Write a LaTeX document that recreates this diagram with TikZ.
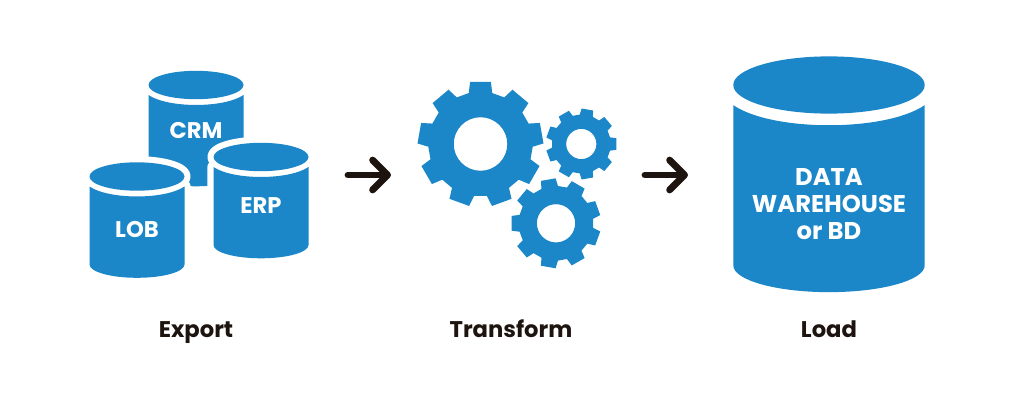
\documentclass[tikz,border=0pt]{standalone}
\usepackage{fontspec}
\setmainfont{Poppins}
\usetikzlibrary{arrows.meta}
\definecolor{iconblue}{HTML}{1B87C9}
\definecolor{arrowblack}{HTML}{1D1410}
\tikzset{
  icon/.style={fill=iconblue,draw=none},
  halo/.style={draw=white,line width=7pt,line join=round},
  inlabel/.style={white,font=\fontsize{12.9}{15.6}\selectfont\bfseries,align=center},
  biglabel/.style={inlabel,font=\fontsize{13.8}{15.6}\selectfont\bfseries},
  caption/.style={arrowblack,anchor=base,font=\fontsize{12.9}{14}\selectfont\bfseries},
  flow/.style={arrowblack,line width=3.9pt,line cap=round,-{Straight Barb[length=8.5pt,width=17pt,round]}}
}
\newcommand{\dbcylinder}[4]{
  \begin{scope}[shift={(#1,#2)},scale=#3]
    \path[halo] (0,0) ellipse [x radius=47.5,y radius=14.2];
    \path[halo] (-47.5,-10) -- (-47.5,-#4) arc [start angle=180,end angle=360,x radius=47.5,y radius=13.3] -- (47.5,-10) -- cycle;
    \path[icon] (0,0) ellipse [x radius=47.5,y radius=14.2];
    \path[icon] (-47.5,-10) .. controls (-28,-23.3) and (28,-23.3) .. (47.5,-10)
      -- (47.5,-#4) arc [start angle=0,end angle=-180,x radius=47.5,y radius=13.3] -- cycle;
  \end{scope}
}
\newcommand{\gearicon}[5]{
  \begin{scope}[shift={(#1,#2)},scale=#3]
    \path[icon,even odd rule] (#5-13:0.83)
      \foreach \tooth in {0,40,...,320} {
        -- (#5+\tooth-13:0.83) -- (#5+\tooth-9.5:1) -- (#5+\tooth+9.5:1) -- (#5+\tooth+13:0.83)
      } -- cycle
      (0,0) circle (#4);
  \end{scope}
}
\begin{document}
\begin{tikzpicture}[x=0.02cm,y=0.02cm]
  \useasboundingbox (0,0) rectangle (1024,413);
  % export
  \dbcylinder{196}{328}{1}{88}
  \dbcylinder{261}{256}{1}{88}
  \dbcylinder{137}{236.5}{1}{88}
  \node[inlabel] (crm) at (196,282) {CRM};
  \node[inlabel] (erp) at (261,207) {ERP};
  \node[inlabel] (lob) at (137,183) {LOB};
  % transform
  \gearicon{480.5}{269}{63}{0.425}{90}
  \gearicon{581.3}{269}{35.5}{0.425}{0}
  \gearicon{556}{189.7}{45}{0.425}{20}
  % load
  \dbcylinder{829}{328}{2.015}{89.5}
  \node[biglabel] (warehouse) at (829,209) {DATA\\WAREHOUSE\\or BD};
  % captions
  \node[caption] (export) at (196,76) {Export};
  \node[caption] (transform) at (511,76) {Transform};
  \node[caption] (load) at (829,76) {Load};
  % arrows
  \coordinate (flowa) at (348,238);
  \coordinate (flowb) at (391,238);
  \coordinate (flowc) at (645,238);
  \coordinate (flowd) at (688,238);
  \draw[flow] (flowa) -- (flowb);
  \draw[flow] (flowc) -- (flowd);
\end{tikzpicture}
\end{document}
